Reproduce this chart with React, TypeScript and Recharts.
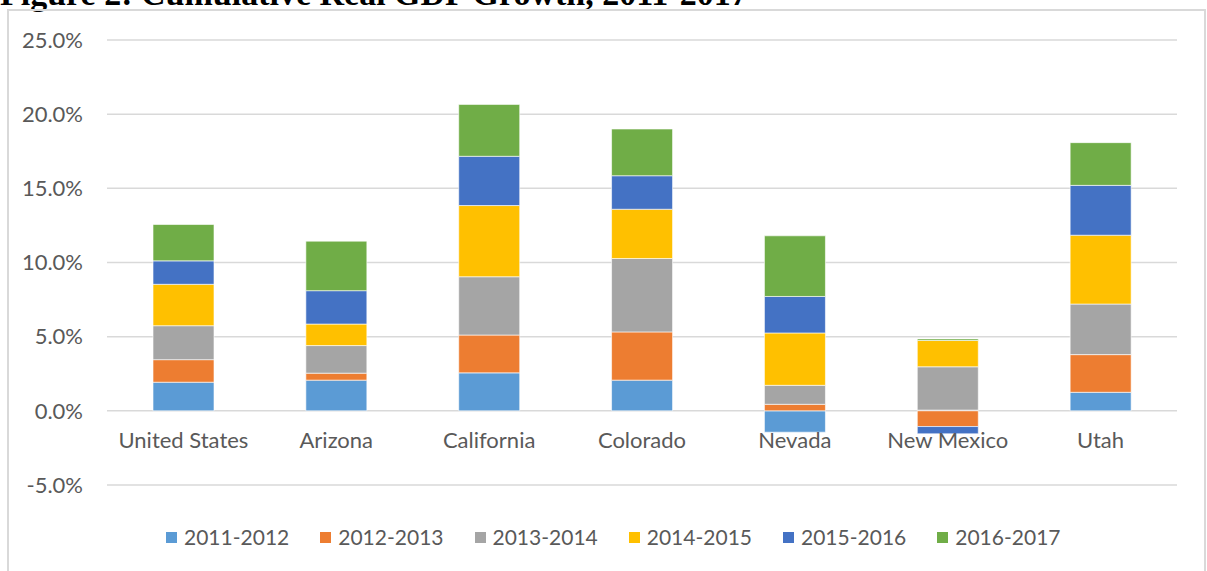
import React from 'react';
import { BarChart, Bar, XAxis, YAxis, CartesianGrid, Legend } from 'recharts';

const categories = ['United States', 'Arizona', 'California', 'Colorado', 'Nevada', 'New Mexico', 'Utah'];

const g2011_2012 = [1.93, 2.07, 2.56, 2.07, -1.44, 0.05, 1.25];
const g2012_2013 = [1.52, 0.47, 2.55, 3.25, 0.44, -1.06, 2.54];
const g2013_2014 = [2.29, 1.86, 3.93, 4.95, 1.28, 2.92, 3.41];
const g2014_2015 = [2.79, 1.45, 4.8, 3.32, 3.53, 1.77, 4.64];
const g2015_2016 = [1.58, 2.25, 3.32, 2.26, 2.46, -0.49, 3.36];
const g2016_2017 = [2.45, 3.34, 3.5, 3.15, 4.09, 0.11, 2.88];

const seriesNames = ['2011-2012', '2012-2013', '2013-2014', '2014-2015', '2015-2016', '2016-2017'];
const seriesValues = [g2011_2012, g2012_2013, g2013_2014, g2014_2015, g2015_2016, g2016_2017];
const seriesColors = ['#5B9BD5', '#ED7D31', '#A5A5A5', '#FFC000', '#4472C4', '#70AD47'];

const yTicks = [-5, 0, 5, 10, 15, 20, 25];

const data = categories.map((name, i) => {
  const row: Record<string, string | number> = { name };
  seriesNames.forEach((s, k) => {
    row[s] = seriesValues[k][i];
  });
  return row;
});

const FONT = 'Lato, "Open Sans", sans-serif';
const TEXT = '#595959';

const CategoryTick = (props: any) => {
  const { x, y, payload } = props;
  return (
    <text x={x} y={y - 37} textAnchor="middle" fill={TEXT} fontSize={22} fontFamily={FONT}>
      {payload.value}
    </text>
  );
};

const renderLegend = (props: any) => {
  const { payload } = props;
  return (
    <div style={{ display: 'flex', paddingLeft: 166, alignItems: 'center', height: 24 }}>
      {payload.map((p: any) => (
        <div key={p.value} style={{ display: 'flex', alignItems: 'center', marginRight: 31 }}>
          <span style={{ display: 'inline-block', width: 11, height: 11, background: p.color }} />
          <span style={{ marginLeft: 7, fontFamily: FONT, fontSize: 21, color: TEXT, lineHeight: '24px' }}>
            {p.value}
          </span>
        </div>
      ))}
    </div>
  );
};

export default function App() {
  return (
    <div style={{ position: 'absolute', left: 0, top: 0, width: 1207, height: 571, overflow: 'hidden', background: '#fff' }}>
      <div
        style={{
          position: 'absolute',
          left: 0,
          top: -23.5,
          fontFamily: '"Liberation Serif", "Times New Roman", serif',
          fontWeight: 'bold',
          fontSize: 34,
          lineHeight: '34px',
          whiteSpace: 'nowrap',
          color: '#000',
        }}
      >
        Figure 2: Cumulative Real GDP Growth, 2011-2017
      </div>
      <div
        style={{
          position: 'absolute',
          left: 7,
          top: 9,
          width: 1199,
          height: 700,
          boxSizing: 'border-box',
          border: '2px solid #d9d9d9',
        }}
      />
      <div style={{ position: 'absolute', left: 0, top: 0 }}>
        <BarChart
          width={1207}
          height={571}
          data={data}
          stackOffset="sign"
          margin={{ top: 40, right: 30, left: 0, bottom: 56 }}
          barSize={61}
        >
          <CartesianGrid vertical={false} stroke="#d9d9d9" strokeWidth={1.5} />
          <XAxis
            dataKey="name"
            height={30}
            axisLine={false}
            tickLine={false}
            tickSize={0}
            tickMargin={0}
            tick={<CategoryTick />}
            interval={0}
          />
          <YAxis
            width={107}
            domain={[-5, 25]}
            ticks={yTicks}
            axisLine={false}
            tickLine={false}
            tickSize={0}
            tickMargin={24}
            tickFormatter={(v: number) => v.toFixed(1) + '%'}
            tick={{ fill: TEXT, fontSize: 22, fontFamily: FONT }}
          />
          <Legend
            layout="horizontal"
            verticalAlign="middle"
            align="center"
            content={renderLegend}
            wrapperStyle={{ left: 0, top: 525, width: 1207 }}
          />
          {seriesNames.map((s, k) => (
            <Bar
              key={s}
              dataKey={s}
              name={s}
              stackId="a"
              fill={seriesColors[k]}
              stroke="#ffffff"
              strokeOpacity={0.6}
              strokeWidth={1}
              isAnimationActive={false}
            />
          ))}
        </BarChart>
      </div>
    </div>
  );
}
